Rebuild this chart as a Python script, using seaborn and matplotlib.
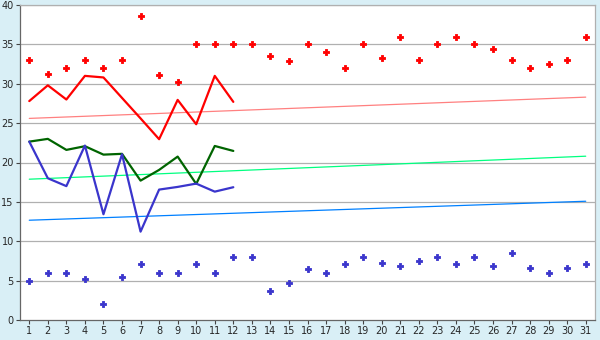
import matplotlib
matplotlib.use("Agg")
import matplotlib.pyplot as plt
import seaborn as sns
import numpy as np
import pandas as pd

days = list(range(1, 32))

max_dots = [33.0, 31.2, 32.0, 33.0, 32.0, 33.0, 38.6, 31.1, 30.2, 35.0,
            35.0, 35.0, 35.0, 33.5, 32.9, 35.0, 34.0, 32.0, 35.0, 33.25,
            36.0, 33.0, 35.0, 36.0, 35.0, 34.4, 33.0, 32.0, 32.5, 33.0, 36.0]
min_dots = [5.0, 6.0, 6.0, 5.2, 2.0, 5.4, 7.1, 6.0, 6.0, 7.1,
            6.0, 8.0, 8.0, 3.65, 4.66, 6.44, 6.0, 7.1, 8.0, 7.2,
            6.8, 7.46, 8.0, 7.1, 8.0, 6.8, 8.5, 6.6, 6.0, 6.6, 7.1]

line_days = list(range(1, 13))
red_line = [27.8, 29.8, 28.0, 31.0, 30.8, 28.2, 25.6, 22.96, 27.95, 24.86, 31.0, 27.7]
green_line = [22.65, 23.0, 21.6, 22.07, 21.0, 21.1, 17.7, 19.06, 20.75, 17.28, 22.1, 21.47]
blue_line = [22.65, 18.0, 17.0, 22.15, 13.43, 21.05, 11.22, 16.56, 16.9, 17.32, 16.3, 16.86]

trend_days = [1, 31]
pink_trend = [25.6, 28.3]
lgreen_trend = [17.88, 20.8]
lblue_trend = [12.67, 15.08]

yticks = [0, 5, 10, 15, 20, 25, 30, 35, 40]

sns.set_style("white")
plt.rcParams['font.family'] = ['DejaVu Sans']

fig = plt.figure(figsize=(6, 3.4), dpi=100)
fig.patch.set_facecolor("#d9eff6")
ax = fig.add_axes([20/600, 20/340, 575/600, 315/340])
ax.set_facecolor("white")

for v in yticks[1:]:
    ax.axhline(v, color="#b0b0b0", lw=0.9, zorder=0)

sns.lineplot(x=trend_days, y=pink_trend, ax=ax, color="#ff8080", lw=0.9, zorder=1)
sns.lineplot(x=trend_days, y=lgreen_trend, ax=ax, color="#00ff80", lw=0.9, zorder=1)
sns.lineplot(x=trend_days, y=lblue_trend, ax=ax, color="#0080ff", lw=0.9, zorder=1)

sns.lineplot(x=line_days, y=red_line, ax=ax, color="#ff0000", lw=1.6, zorder=3)
sns.lineplot(x=line_days, y=green_line, ax=ax, color="#006400", lw=1.6, zorder=3)
sns.lineplot(x=line_days, y=blue_line, ax=ax, color="#3a35cc", lw=1.6, zorder=3)

sns.scatterplot(x=days, y=max_dots, ax=ax, color="#ff0000", marker="P", s=14,
                linewidth=0.6, edgecolor="#ff0000", zorder=4)
sns.scatterplot(x=days, y=min_dots, ax=ax, color="#3a35cc", marker="P", s=14,
                linewidth=0.6, edgecolor="#3a35cc", zorder=4)

ax.set_xlim(0.5, 31.5)
ax.set_ylim(0, 40)
ax.set_xticks(days)
ax.set_xticklabels([str(d) for d in days])
ax.set_yticks(yticks)
ax.set_yticklabels([str(v) for v in yticks])
ax.tick_params(axis="both", labelsize=7, length=3, width=0.8, color="#444444",
               pad=1.5, bottom=True, left=True)

for side in ["left", "bottom"]:
    ax.spines[side].set_color("#666666")
    ax.spines[side].set_linewidth(0.9)
for side in ["top", "right"]:
    ax.spines[side].set_visible(True)
    ax.spines[side].set_color("#b0b0b0")
    ax.spines[side].set_linewidth(0.9)

ax.set_xlabel("")
ax.set_ylabel("")
if ax.get_legend():
    ax.get_legend().remove()

fig.savefig("out.png", dpi=100, facecolor=fig.get_facecolor())
